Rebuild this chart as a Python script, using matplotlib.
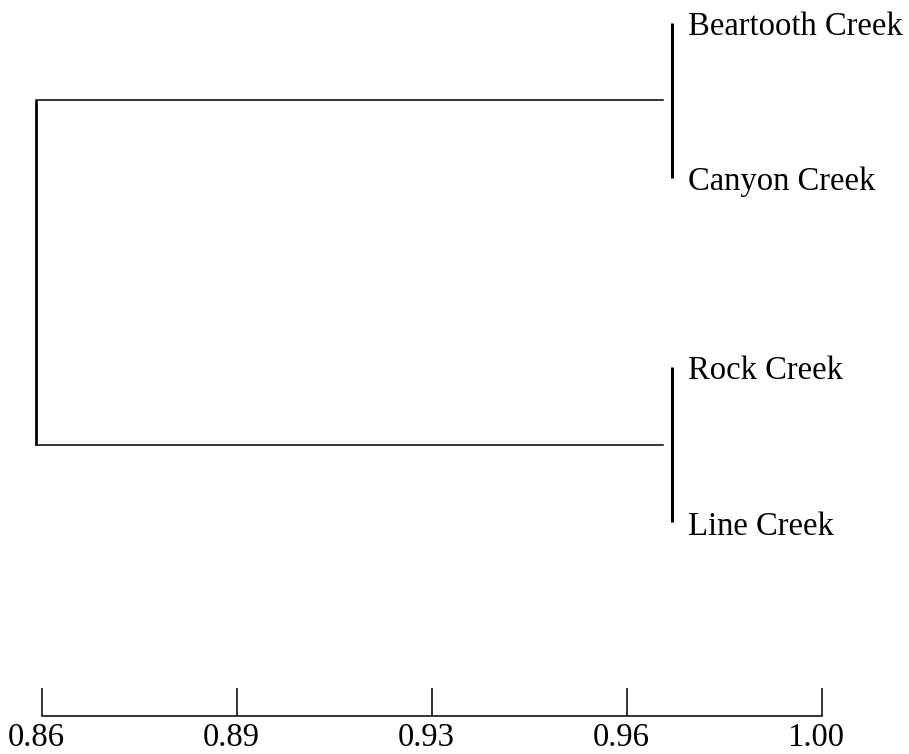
import matplotlib
matplotlib.use('Agg')
from matplotlib import pyplot as plt
from matplotlib.transforms import ScaledTranslation

plt.rcParams['font.family'] = ['Liberation Serif', 'DejaVu Serif']

# leaves of the dendrogram, top to bottom
leaves = ['Beartooth Creek', 'Canyon Creek', 'Rock Creek', 'Line Creek']
leaf_pos = [0, 1, 2.22, 3.22]
pairs = [(0, 1), (2, 3)]
pair_sim = [0.973, 0.973]   # similarity at which each pair joins
root_sim = 0.859            # similarity at which the two groups join

scale_ticks = [0.86, 0.895, 0.93, 0.965, 1.00]
scale_labels = ['0.86', '0.89', '0.93', '0.96', '1.00']

xlim = (0.85246, 1.01563)

fig = plt.figure(figsize=(9.09, 7.54), dpi=100)
ax = fig.add_axes([0, 0, 1, 1])
ax.set_xlim(*xlim)
ax.set_ylim(4.716, -0.148)
ax.axis('off')

mids = []
for (a, b), s in zip(pairs, pair_sim):
    ya, yb = leaf_pos[a], leaf_pos[b]
    ax.plot([s, s], [ya, yb], color='black', lw=2.2, solid_capstyle='butt')
    m = (ya + yb) / 2
    mids.append(m)
    ax.plot([root_sim, s - 0.0015], [m, m], color='black', lw=1.1)
    for i in (a, b):
        ax.annotate(leaves[i], (s, leaf_pos[i]), xytext=(12, -3),
                    textcoords='offset points', va='center', ha='left',
                    fontsize=23.5)
ax.plot([root_sim, root_sim], mids, color='black', lw=2.0,
        solid_capstyle='butt')

# similarity scale bar
sax = fig.add_axes([0, 38 / 754, 1, 0.002])
sax.set_xlim(*xlim)
sax.patch.set_visible(False)
for side in ('left', 'right', 'top'):
    sax.spines[side].set_visible(False)
sax.spines['bottom'].set_bounds(scale_ticks[0], scale_ticks[-1])
sax.spines['bottom'].set_linewidth(1.1)
sax.set_yticks([])
sax.set_xticks(scale_ticks)
sax.set_xticklabels(scale_labels)
sax.tick_params(axis='x', direction='in', length=20, width=1.1,
                labelsize=23.5, pad=5)
shift = ScaledTranslation(-6 / 100, 0, fig.dpi_scale_trans)
for lab in sax.get_xticklabels():
    lab.set_transform(lab.get_transform() + shift)

fig.savefig('out.png', dpi=100, facecolor='white')
